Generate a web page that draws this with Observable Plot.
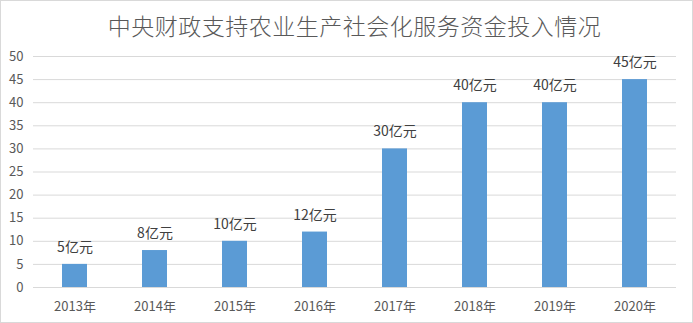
<!DOCTYPE html>
<html>
<head>
<meta charset="utf-8">
<script src="https://cdn.jsdelivr.net/npm/d3@7"></script>
<script src="https://cdn.jsdelivr.net/npm/@observablehq/plot@0.6"></script>
<style>
  html, body { margin: 0; padding: 0; background: #fff; }
  #frame { box-sizing: border-box; width: 693px; height: 323px; border: 1px solid #d9d9d9; background: #fff; overflow: hidden; }
  #title { height: 44px; box-sizing: border-box; padding-top: 11px; text-align: center; font-family: "Noto Sans CJK SC", sans-serif; font-weight: 300; font-size: 23px; line-height: 26px; color: #595959; padding-left: 16px; letter-spacing: 0.5px; overflow: visible; }
  #chart { margin-top: 0; }
</style>
</head>
<body>
<div id="frame">
  <div id="title">中央财政支持农业生产社会化服务资金投入情况</div>
  <div id="chart"></div>
</div>
<script>
const years = ["2013年", "2014年", "2015年", "2016年", "2017年", "2018年", "2019年", "2020年"];
const values = [5, 8, 10, 12, 30, 40, 40, 45];
const labels = ["5亿元", "8亿元", "10亿元", "12亿元", "30亿元", "40亿元", "40亿元", "45亿元"];
const yTicks = [0, 5, 10, 15, 20, 25, 30, 35, 40, 45, 50];

const data = years.map((y, i) => ({year: y, value: values[i], label: labels[i]}));

const chart = Plot.plot({
  width: 691,
  height: 277,
  marginTop: 11,
  marginBottom: 35,
  marginLeft: 32,
  marginRight: 16,
  style: { fontFamily: "'Noto Sans CJK SC', 'DejaVu Sans', sans-serif", background: "transparent", overflow: "visible" },
  x: { domain: years, paddingInner: 0.69, paddingOuter: 0.345, label: null },
  y: { domain: [0, 50], label: null },
  marks: [
    Plot.ruleY(yTicks, { stroke: "#d9d9d9", strokeWidth: 1 }),
    Plot.barY(data, { x: "year", y: "value", fill: "#5b9bd5" }),
    Plot.text(data, { x: "year", y: "value", text: "label", dy: -17, fontSize: 14, fill: "#404040", lineAnchor: "middle" }),
    Plot.axisY(yTicks, { tickSize: 0, tickPadding: 10, fontSize: 13, color: "#595959", label: null }),
    Plot.axisX({ tickSize: 0, tickPadding: 14, fontSize: 13, color: "#595959", label: null })
  ]
});
document.getElementById("chart").appendChild(chart);
</script>
</body>
</html>
